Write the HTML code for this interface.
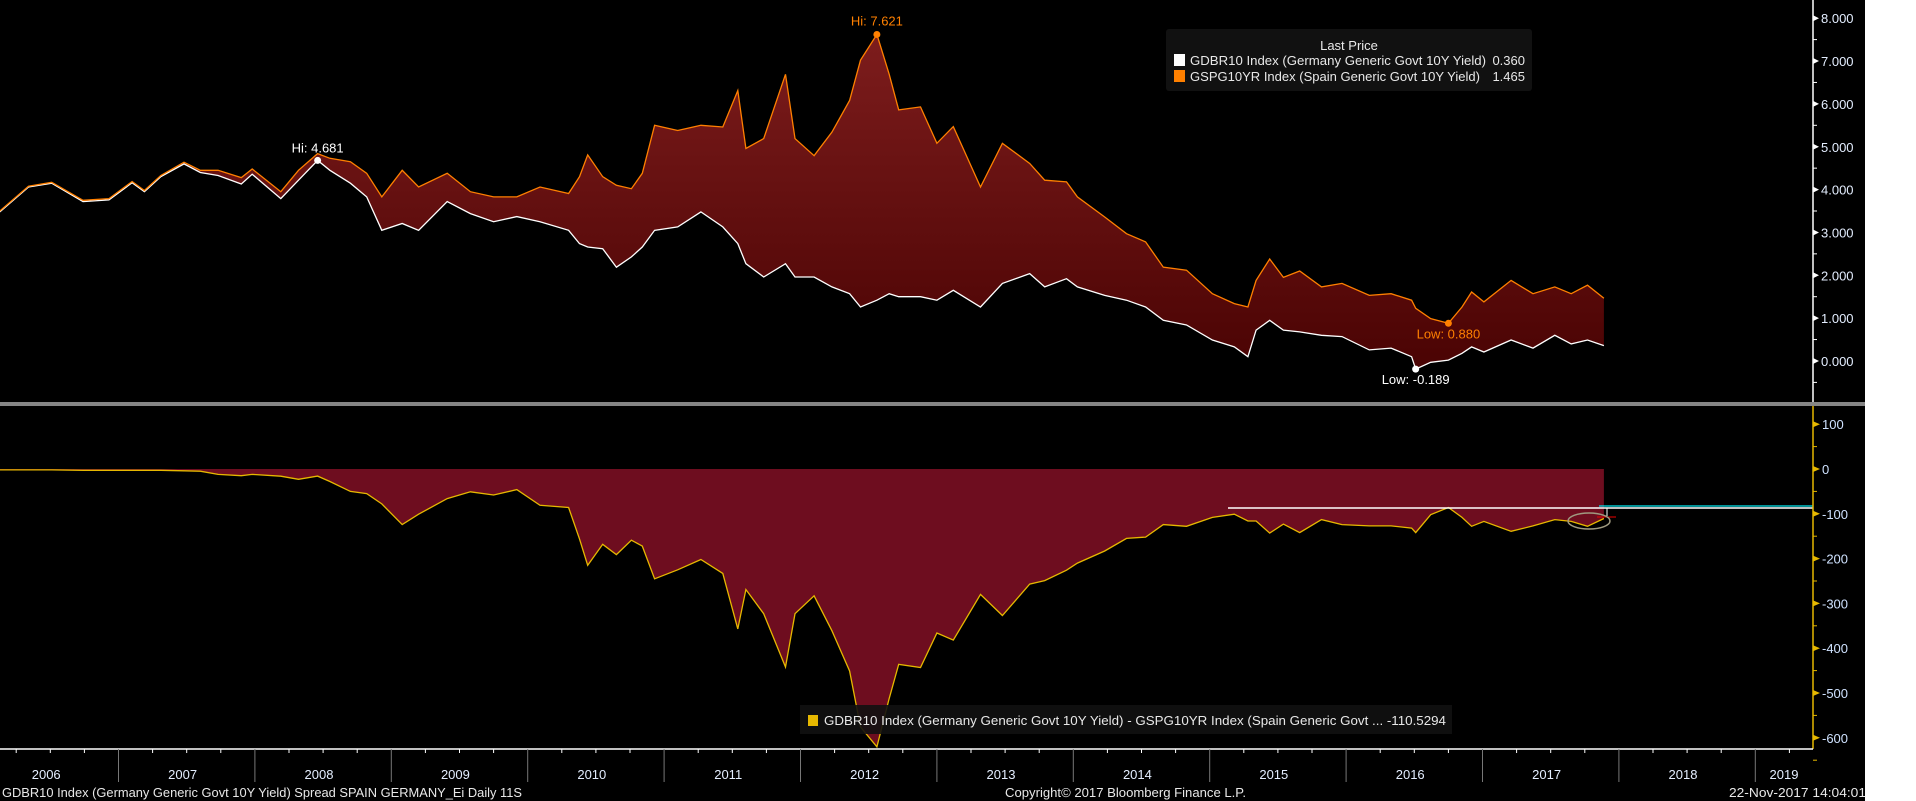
<!DOCTYPE html>
<html><head><meta charset="utf-8"><style>
html,body{margin:0;padding:0;background:#fff;}
svg{display:block;font-family:"Liberation Sans",sans-serif;}
</style></head><body>
<svg id="chart" width="1916" height="801" viewBox="0 0 1916 801" xmlns="http://www.w3.org/2000/svg">
<defs>
<linearGradient id="topfill" gradientUnits="userSpaceOnUse" x1="0" y1="30" x2="0" y2="370">
<stop offset="0" stop-color="#7e1d1d"/><stop offset="1" stop-color="#4a0303"/>
</linearGradient>
</defs>
<rect x="0" y="0" width="1865" height="801" fill="#000"/>
<g id="topPanel"></g>
<g id="bottomPanel"></g>
<g id="axes"></g>
<rect x="0" y="402" width="1865" height="4" fill="#858585"/>
<g>
<rect x="1166" y="29" width="366" height="62" rx="3" fill="#111"/>
<text x="1349" y="50" fill="#e8e8e8" font-size="13" text-anchor="middle">Last Price</text>
<rect x="1174" y="54" width="11" height="12" fill="#fff"/>
<text x="1190" y="65" fill="#e8e8e8" font-size="13" textLength="296" lengthAdjust="spacingAndGlyphs">GDBR10 Index (Germany Generic Govt 10Y Yield)</text>
<text x="1525" y="65" fill="#e8e8e8" font-size="13" text-anchor="end">0.360</text>
<rect x="1174" y="70" width="11" height="12" fill="#ff8000"/>
<text x="1190" y="81" fill="#e8e8e8" font-size="13" textLength="290" lengthAdjust="spacingAndGlyphs">GSPG10YR Index (Spain Generic Govt 10Y Yield)</text>
<text x="1525" y="81" fill="#e8e8e8" font-size="13" text-anchor="end">1.465</text>
</g>
<g id="spreadLegend">
<rect x="800" y="705" width="652" height="29" fill="#111" fill-opacity="0.9"/>
<rect x="808" y="715" width="10" height="11" fill="#e6b800"/>
<text x="824" y="725" fill="#e8e8e8" font-size="13" textLength="622" lengthAdjust="spacingAndGlyphs">GDBR10 Index (Germany Generic Govt 10Y Yield) - GSPG10YR Index (Spain Generic Govt ... -110.5294</text>
</g>
<g font-size="13" fill="#e8e8e8">
<text x="2" y="797" textLength="520" lengthAdjust="spacingAndGlyphs">GDBR10 Index (Germany Generic Govt 10Y Yield) Spread SPAIN GERMANY_Ei  Daily 11S</text>
<text x="1005" y="797" textLength="241" lengthAdjust="spacingAndGlyphs">Copyright© 2017 Bloomberg Finance L.P.</text>
<text x="1729" y="797" textLength="137" lengthAdjust="spacingAndGlyphs">22-Nov-2017 14:04:01</text>
</g>
</svg>
<script>
const dates=[2006.13,2006.34,2006.51,2006.74,2006.93,2007.10,2007.19,2007.31,2007.48,2007.60,2007.73,2007.90,2007.98,2008.19,2008.32,2008.46,2008.55,2008.70,2008.82,2008.93,2009.08,2009.20,2009.41,2009.58,2009.75,2009.92,2010.09,2010.30,2010.38,2010.44,2010.55,2010.65,2010.76,2010.84,2010.93,2011.10,2011.27,2011.43,2011.54,2011.60,2011.73,2011.89,2011.96,2012.10,2012.23,2012.36,2012.44,2012.56,2012.65,2012.72,2012.88,2013.00,2013.12,2013.32,2013.48,2013.68,2013.79,2013.95,2014.03,2014.23,2014.39,2014.53,2014.66,2014.83,2015.02,2015.18,2015.28,2015.34,2015.44,2015.54,2015.66,2015.82,2015.97,2016.17,2016.33,2016.48,2016.51,2016.62,2016.75,2016.85,2016.92,2017.01,2017.21,2017.37,2017.53,2017.65,2017.77,2017.89];
const germany=[3.48,4.06,4.15,3.72,3.76,4.16,3.95,4.30,4.60,4.40,4.33,4.13,4.36,3.79,4.22,4.681,4.45,4.15,3.83,3.05,3.21,3.05,3.72,3.44,3.25,3.37,3.25,3.05,2.74,2.66,2.62,2.19,2.43,2.66,3.05,3.13,3.48,3.13,2.74,2.27,1.96,2.27,1.96,1.96,1.73,1.57,1.26,1.42,1.57,1.50,1.50,1.42,1.65,1.26,1.81,2.04,1.73,1.92,1.73,1.53,1.42,1.26,0.95,0.84,0.49,0.33,0.10,0.72,0.95,0.72,0.68,0.60,0.57,0.26,0.30,0.10,-0.189,-0.03,0.02,0.18,0.33,0.21,0.49,0.30,0.60,0.40,0.49,0.360];
const spain=[3.50,4.08,4.17,3.75,3.79,4.19,3.98,4.33,4.64,4.45,4.45,4.28,4.48,3.95,4.45,4.84,4.73,4.65,4.38,3.83,4.45,4.06,4.38,3.95,3.83,3.83,4.06,3.91,4.30,4.81,4.30,4.10,4.02,4.38,5.50,5.38,5.50,5.46,6.31,4.96,5.19,6.69,5.19,4.79,5.34,6.08,7.02,7.621,6.69,5.86,5.93,5.08,5.47,4.06,5.08,4.61,4.22,4.18,3.83,3.36,2.97,2.78,2.19,2.12,1.57,1.34,1.26,1.88,2.38,1.95,2.10,1.73,1.81,1.53,1.57,1.42,1.23,0.99,0.880,1.26,1.61,1.38,1.88,1.57,1.73,1.57,1.77,1.465];
const yieldTicks=[8,7,6,5,4,3,2,1,0];
const spreadTicks=[100,0,-100,-200,-300,-400,-500,-600];
const yearLabels=[2006,2007,2008,2009,2010,2011,2012,2013,2014,2015,2016,2017,2018,2019];

const NS="http://www.w3.org/2000/svg";
const X=t=>118.5+(t-2007)*136.4;
const Y1=v=>361-42.85*v;
const Y2=v=>469-0.448*v;
const AX=1813;
function el(tag,attrs,parent){const e=document.createElementNS(NS,tag);for(const k in attrs)e.setAttribute(k,attrs[k]);parent.appendChild(e);return e;}
const topG=document.getElementById('topPanel'),botG=document.getElementById('bottomPanel'),axesG=document.getElementById('axes');

let sp=dates.map((t,i)=>X(t).toFixed(1)+','+Y1(spain[i]).toFixed(1));
let gp=dates.map((t,i)=>X(t).toFixed(1)+','+Y1(germany[i]).toFixed(1));
let fillP=el('polygon',{points:sp.concat(gp.slice().reverse()).join(' '),fill:'url(#topfill)'},topG);


let gl=el('polyline',{points:gp.join(' '),fill:'none',stroke:'#fff','stroke-width':1.3},topG);


let sl=el('polyline',{points:sp.join(' '),fill:'none',stroke:'#ff8000','stroke-width':1.3},topG);



function marker(idx,arr,color,label,dy,name){
  const cx=X(dates[idx]),cy=Y1(arr[idx]);
  const c=el('circle',{cx:cx,cy:cy,r:3.5,fill:color},topG);
  
  
  const tx=el('text',{x:cx,y:cy+dy,fill:color,'font-size':13,'text-anchor':'middle'},topG);
  tx.textContent=label+arr[idx].toFixed(3);
  
  
}
const maxI=a=>a.indexOf(Math.max(...a)), minI=a=>a.indexOf(Math.min(...a));
marker(maxI(spain),spain,'#ff8000','Hi: ',-9,'spain-high');
marker(maxI(germany),germany,'#fff','Hi: ',-8,'germany-high');
marker(minI(spain),spain,'#ff8000','Low: ',15,'spain-low');
marker(minI(germany),germany,'#fff','Low: ',15,'germany-low');

const spread=dates.map((t,i)=>(germany[i]-spain[i])*100);
const spPts=dates.map((t,i)=>X(t).toFixed(1)+','+Math.min(Y2(spread[i]),749).toFixed(1));
const x0=X(dates[0]),x1=X(dates[dates.length-1]);
let bf=el('polygon',{points:[x0+','+Y2(0)].concat(spPts,[x1+','+Y2(0)]).join(' '),fill:'#6e0d1f'},botG);


let bl=el('polyline',{points:spPts.join(' '),fill:'none',stroke:'#e6b800','stroke-width':1.3},botG);


let wl=el('line',{x1:1228,y1:508,x2:AX,y2:508,stroke:'#fff','stroke-width':1.5},botG);


let wv=el('line',{x1:1607,y1:508,x2:1607,y2:516,stroke:'#fff','stroke-width':1},botG);


let cl=el('line',{x1:1599,y1:506,x2:AX,y2:506,stroke:'#00e5ee','stroke-width':1.3},botG);


let rl=el('line',{x1:1597,y1:517,x2:1616,y2:517,stroke:'#e00','stroke-width':1},botG);


let ci=el('ellipse',{cx:1589,cy:521,rx:21,ry:8,fill:'none',stroke:'#a09a80','stroke-width':1.5},botG);



let ta=el('line',{x1:AX,y1:0,x2:AX,y2:402,stroke:'#fff','stroke-width':1.5},axesG);


yieldTicks.forEach(v=>{
  const y=Y1(v);
  const tri=el('polygon',{points:`${AX},${y-3} ${AX+6},${y} ${AX},${y+3}`,fill:'#fff'},axesG);
  
  
  el('line',{x1:AX,y1:y+21.4,x2:AX+4,y2:y+21.4,stroke:'#fff'},axesG);
  const t=el('text',{x:AX+8,y:y+5,fill:'#e4eeff','font-size':13},axesG);
  t.textContent=v.toFixed(3);
  
  
});
let ba=el('line',{x1:AX,y1:406,x2:AX,y2:749,stroke:'#e6b800','stroke-width':1.5},axesG);


spreadTicks.forEach(v=>{
  const y=Y2(v);
  const tri=el('polygon',{points:`${AX},${y-3} ${AX+7},${y} ${AX},${y+3}`,fill:'#e6b800'},axesG);
  
  
  el('line',{x1:AX,y1:y+22.4,x2:AX+4,y2:y+22.4,stroke:'#e6b800'},axesG);
  const t=el('text',{x:AX+9,y:y+5,fill:'#cfe2ff','font-size':13},axesG);
  t.textContent=v;
  
  
});
let xa=el('line',{x1:0,y1:749,x2:AX,y2:749,stroke:'#fff','stroke-width':1.5},axesG);


for(let q=2006.25;q<2019.9;q+=0.25){
  const x=X(q); if(x<0||x>AX) continue;
  if(Math.abs(q-Math.round(q))<0.01){
    el('line',{x1:x,y1:749,x2:x,y2:782,stroke:'#777'},axesG);
  } else el('line',{x1:x,y1:749,x2:x,y2:753,stroke:'#fff'},axesG);
}
yearLabels.forEach(yr=>{
  const t=el('text',{x:Math.min(X(yr+0.47),1784),y:779,fill:'#e4eeff','font-size':13,'text-anchor':'middle'},axesG);
  t.textContent=yr;
  
  
});
</script>
</body></html>
